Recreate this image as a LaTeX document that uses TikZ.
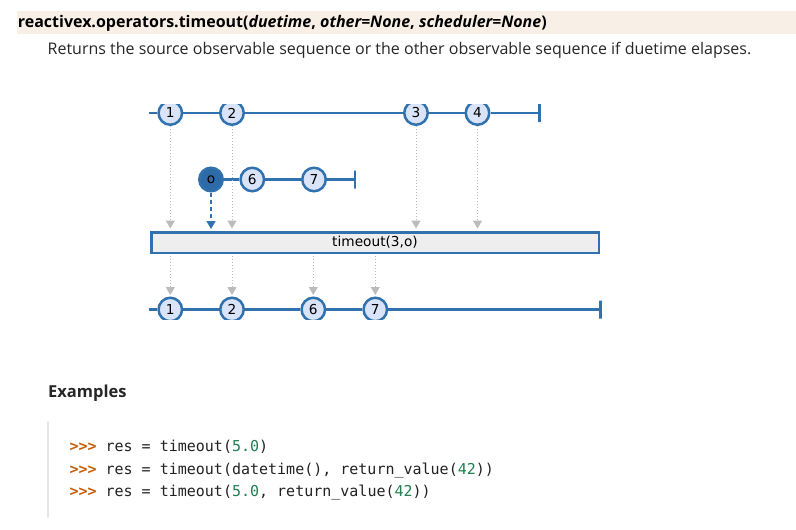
\documentclass[tikz,border=0pt]{standalone}
\usepackage{fontspec}
\setmainfont{Open Sans}
\setmonofont{DejaVu Sans Mono}
\newfontfamily\marblefont{DejaVu Sans}
\usetikzlibrary{arrows.meta}
\definecolor{rxblue}{HTML}{3071AE}
\definecolor{marblefill}{HTML}{DAE4F8}
\definecolor{otherfill}{HTML}{2C6BA8}
\definecolor{greyarrow}{HTML}{BBBBBB}
\definecolor{boxfill}{HTML}{EEEEEE}
\definecolor{headbg}{HTML}{F8F0E6}
\definecolor{promptc}{HTML}{C65D09}
\definecolor{numc}{HTML}{208050}
\definecolor{codetext}{HTML}{222222}
\definecolor{bordergrey}{HTML}{E6E6E6}

\tikzset{
  marble/.style={circle, draw=rxblue, fill=marblefill, line width=2.5pt, minimum size=23.5pt, inner sep=0pt, font=\marblefont\fontsize{13.7}{14}\selectfont},
  othermarble/.style={marble, fill=otherfill},
  endbar/.style={draw=rxblue, line width=2.5pt, inner sep=0pt, minimum width=0pt, minimum height=18pt},
  timeline/.style={rxblue, line width=2.5pt},
  emit/.style={greyarrow, line width=1pt, dash pattern=on 1pt off 2pt, -{Triangle[width=9pt,length=8pt]}},
  switch/.style={rxblue, line width=1.7pt, dash pattern=on 4pt off 3pt, -{Triangle[width=9pt,length=8pt]}},
  opbox/.style={draw=rxblue, fill=boxfill, line width=2.5pt, minimum width=447.5pt, minimum height=20.5pt, inner sep=0pt, font=\marblefont\fontsize{13.7}{14}\selectfont},
  codeline/.style={anchor=base west, inner sep=0pt, text=codetext, font=\ttfamily\fontsize{15}{18}\selectfont}
}
\newcommand{\prompt}{\textcolor{promptc}{\textbf{>{}>{}>}}}
\newcommand{\num}[1]{\textcolor{numc}{#1}}

\begin{document}
\begin{tikzpicture}[x=1pt, y=-1pt]
        \useasboundingbox (0,0) rectangle (796,530);

        % heading
        \fill[headbg] (17,11) rectangle (796,33.5);
        \node[anchor=base west, inner sep=0pt, font=\fontsize{16}{18}\selectfont\bfseries] (title) at (17.7,27.5)
            {reactivex.operators.timeout(\textit{duetime}, \textit{other=None}, \textit{scheduler=None})};
        \node[anchor=base west, inner sep=0pt, text=black!85, font=\fontsize{16}{18}\selectfont] (desc) at (47.5,54)
            {Returns the source observable sequence or the other observable sequence if duetime elapses.};

        \begin{scope}
        \clip (140,104) rectangle (612,319);

        % source
        \coordinate (s0) at (149.3,113);
        \node[marble] (s1) at (170.3,113) {1} ;
        \node[marble] (s2) at (232,113) {2} ;
        \node[marble] (s3) at (416,113) {3} ;
        \node[marble] (s4) at (477.5,113) {4} ;
        \node[endbar] (se) at (539.5,113) {} ;

        % other
        \node[othermarble] (o0) at (211,179.5) {o} ;
        \node[marble] (o6) at (252.3,179.5) {6} ;
        \node[marble] (o7) at (314,179.5) {7} ;
        \node[endbar] (oe) at (355,179.5) {} ;

        % operator
        \node[opbox] (op) at (375,242.5) {timeout(3,o)} ;

        % result
        \coordinate (r0) at (149.3,309.5);
        \node[marble] (r1) at (170.3,309.5) {1} ;
        \node[marble] (r2) at (232,309.5) {2} ;
        \node[marble] (r6) at (313.3,309.5) {6} ;
        \node[marble] (r7) at (375.3,309.5) {7} ;
        \node[endbar] (re) at (600.7,309.5) {} ;

        \draw[timeline] (s0) -- (s1) ;
        \draw[timeline] (s1) -- (s2) ;
        \draw[timeline] (s2) -- (s3) ;
        \draw[timeline] (s3) -- (s4) ;
        \draw[timeline] (s4) -- (se) ;
        \draw[timeline] (o0) -- (o6) ;
        \draw[timeline] (o6) -- (o7) ;
        \draw[timeline] (o7) -- (oe) ;
        \draw[timeline] (r0) -- (r1) ;
        \draw[timeline] (r1) -- (r2) ;
        \draw[timeline] (r2) -- (r6) ;
        \draw[timeline] (r6) -- (r7) ;
        \draw[timeline] (r7) -- (re) ;

        \foreach \m in {s1,s2,s3,s4}
            \draw[emit, shorten >=2.5pt] (\m) -- (\m |- op.north) ;
        \draw[switch, shorten >=2pt] (o0) -- (o0 |- op.north) ;
        \foreach \m in {r1,r2,r6,r7}
            \draw[emit, shorten <=1.5pt, shorten >=1.5pt] (\m |- op.south) -- (\m) ;
        \end{scope}

        % examples
        \node[anchor=base west, inner sep=0pt, font=\fontsize{16.5}{18}\selectfont\bfseries, text=black!85] (exhead) at (48,397.3) {Examples};
        \draw[bordergrey, line width=2pt, line cap=round] (48,422) -- (48,517);
        \node[codeline] (ex1) at (69.3,451.5) {\prompt{} res = timeout(\num{5.0})};
        \node[codeline] (ex2) at (69.3,474.2) {\prompt{} res = timeout(datetime(), return\_value(\num{42}))};
        \node[codeline] (ex3) at (69.3,496.9) {\prompt{} res = timeout(\num{5.0}, return\_value(\num{42}))};
\end{tikzpicture}
\end{document}
